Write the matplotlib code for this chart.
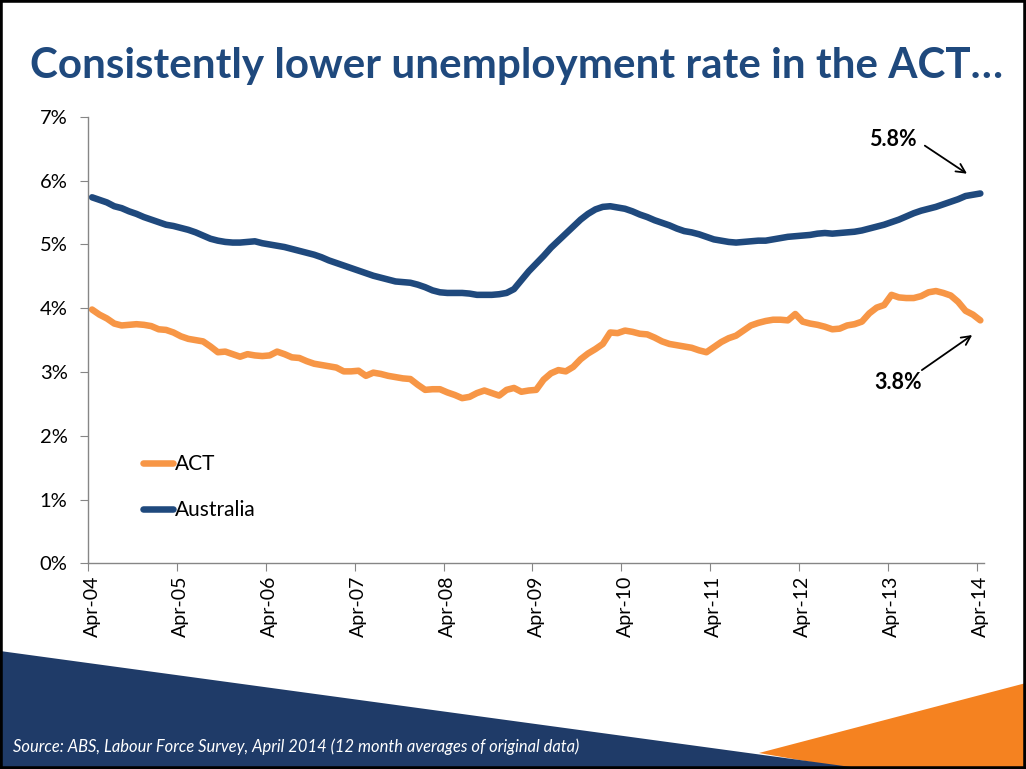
import matplotlib
matplotlib.use("Agg")
import matplotlib.pyplot as plt
from matplotlib.patches import Polygon, Rectangle
from matplotlib.ticker import FixedLocator, FixedFormatter

plt.rcParams['font.family'] = ['Lato', 'DejaVu Sans']

# 12 month averages of unemployment rate (%), monthly Apr-04 .. Apr-14
act = [3.98, 3.90, 3.84, 3.76, 3.73, 3.74, 3.75, 3.74, 3.72, 3.67, 3.66, 3.62,
       3.56, 3.52, 3.50, 3.48, 3.40, 3.31, 3.32, 3.28, 3.24, 3.28, 3.26, 3.25,
       3.26, 3.32, 3.28, 3.23, 3.22, 3.17, 3.13, 3.11, 3.09, 3.07, 3.01, 3.01,
       3.02, 2.94, 2.99, 2.97, 2.94, 2.92, 2.90, 2.89, 2.80, 2.72, 2.73, 2.73,
       2.68, 2.64, 2.59, 2.61, 2.67, 2.71, 2.67, 2.63, 2.72, 2.75, 2.69, 2.71,
       2.72, 2.88, 2.98, 3.03, 3.01, 3.08, 3.20, 3.29, 3.36, 3.44, 3.62, 3.61,
       3.65, 3.63, 3.60, 3.59, 3.54, 3.48, 3.44, 3.42, 3.40, 3.38, 3.34, 3.31,
       3.39, 3.47, 3.53, 3.57, 3.65, 3.73, 3.77, 3.80, 3.82, 3.82, 3.81, 3.91,
       3.79, 3.76, 3.74, 3.71, 3.67, 3.68, 3.73, 3.75, 3.79, 3.92, 4.01, 4.05,
       4.21, 4.17, 4.16, 4.16, 4.19, 4.25, 4.27, 4.24, 4.20, 4.10, 3.96, 3.90,
       3.81]
australia = [5.74, 5.70, 5.66, 5.60, 5.57, 5.52, 5.48, 5.43, 5.39, 5.35, 5.31, 5.29,
             5.26, 5.23, 5.19, 5.14, 5.09, 5.06, 5.04, 5.03, 5.03, 5.04, 5.05, 5.02,
             5.00, 4.98, 4.96, 4.93, 4.90, 4.87, 4.84, 4.80, 4.75, 4.71, 4.67, 4.63,
             4.59, 4.55, 4.51, 4.48, 4.45, 4.42, 4.41, 4.40, 4.37, 4.33, 4.28, 4.25,
             4.24, 4.24, 4.24, 4.23, 4.21, 4.21, 4.21, 4.22, 4.24, 4.30, 4.44, 4.58,
             4.70, 4.82, 4.95, 5.06, 5.17, 5.28, 5.39, 5.48, 5.55, 5.59, 5.60, 5.58,
             5.56, 5.52, 5.47, 5.43, 5.38, 5.34, 5.30, 5.25, 5.21, 5.19, 5.16, 5.12,
             5.08, 5.06, 5.04, 5.03, 5.04, 5.05, 5.06, 5.06, 5.08, 5.10, 5.12, 5.13,
             5.14, 5.15, 5.17, 5.18, 5.17, 5.18, 5.19, 5.20, 5.22, 5.25, 5.28, 5.31,
             5.35, 5.39, 5.44, 5.49, 5.53, 5.56, 5.59, 5.63, 5.67, 5.71, 5.76, 5.78,
             5.80]
year_labels = ['Apr-04', 'Apr-05', 'Apr-06', 'Apr-07', 'Apr-08', 'Apr-09',
               'Apr-10', 'Apr-11', 'Apr-12', 'Apr-13', 'Apr-14']
y_labels = ['0%', '1%', '2%', '3%', '4%', '5%', '6%', '7%']

ACT_COL = '#F79646'
AUS_COL = '#1F497D'
GRID_COL = '#868686'

months = list(range(len(act)))

fig = plt.figure(figsize=(10.26, 7.69), dpi=100)

# slide decoration along the bottom
fig.patches.append(Polygon([(759 / 1026, 1 - 753 / 769), (1.0, 1 - 683 / 769),
                            (1.0, 0.0), (851 / 1026, 0.0)],
                           closed=True, transform=fig.transFigure,
                           facecolor='#F58220', edgecolor='none', zorder=0))
fig.patches.append(Polygon([(0.0, 1 - 651 / 769), (851 / 1026, 1 - 767 / 769),
                            (851 / 1026, 0.0), (0.0, 0.0)],
                           closed=True, transform=fig.transFigure,
                           facecolor='#1F3B68', edgecolor='none', zorder=1))
fig.patches.append(Rectangle((0, 0), 1, 1, transform=fig.transFigure,
                             fill=False, edgecolor='black', lw=4, zorder=5))

fig.text(0.503, 1 - 78 / 769, 'Consistently lower unemployment rate in the ACT\u2026',
         ha='center', va='baseline', fontsize=30.3, fontweight='bold',
         color='#1F497D')
fig.text(13 / 1026, 1 - 752 / 769,
         'Source: ABS, Labour Force Survey, April 2014 (12 month averages of original data)',
         ha='left', va='baseline', fontsize=11.9, style='italic', color='white')

ax = fig.add_axes([0.0861, 0.2675, 0.8730, 0.5804])
ax.plot(months, act, color=ACT_COL, lw=4.7, solid_capstyle='round',
        solid_joinstyle='round', label='ACT')
ax.plot(months, australia, color=AUS_COL, lw=4.7, solid_capstyle='round',
        solid_joinstyle='round', label='Australia')

ax.set_xlim(-0.5, len(act) - 0.5)
ax.set_ylim(0, 7)
ax.set_yticks(range(8))
ax.set_yticklabels(y_labels)

# category axis: tick marks between months, labels on each April
ax.xaxis.set_major_locator(FixedLocator([m - 0.5 for m in months[::12]]))
ax.xaxis.set_major_formatter(FixedFormatter([''] * len(year_labels)))
ax.xaxis.set_minor_locator(FixedLocator(months[::12]))
ax.xaxis.set_minor_formatter(FixedFormatter(year_labels))
ax.tick_params(axis='x', which='minor', length=0, pad=9, labelsize=14,
               labelrotation=90)
ax.tick_params(axis='x', which='major', length=6, color=GRID_COL)
ax.tick_params(axis='y', length=6, color=GRID_COL, labelsize=14.5, pad=9)

for side in ['top', 'right']:
    ax.spines[side].set_visible(False)
for side in ['left', 'bottom']:
    ax.spines[side].set_color(GRID_COL)
    ax.spines[side].set_linewidth(1)

ax.legend(loc='center left', bbox_to_anchor=(0.061, 0.171), frameon=False,
          fontsize=15, handlelength=1.45, handletextpad=0.1, labelspacing=1.25,
          borderpad=0, borderaxespad=0)

# end-of-series callouts
last = len(act) - 1
ax.annotate('', xy=(last - 1.8, australia[-1] + 0.31),
            xytext=(last - 7.5, australia[-1] + 0.75),
            arrowprops=dict(arrowstyle='->', color='black', lw=1.3,
                            mutation_scale=16, shrinkA=0, shrinkB=0))
ax.text(last - 11.8, australia[-1] + 0.84, f'{australia[-1]:.1f}%',
        ha='center', va='center', fontsize=15.5, fontweight='bold')
ax.annotate('', xy=(last - 1.1, act[-1] - 0.23),
            xytext=(last - 7.9, act[-1] - 0.78),
            arrowprops=dict(arrowstyle='->', color='black', lw=1.3,
                            mutation_scale=16, shrinkA=0, shrinkB=0))
ax.text(last - 11.1, act[-1] - 0.98, f'{act[-1]:.1f}%',
        ha='center', va='center', fontsize=15.5, fontweight='bold')

fig.savefig('out.png', dpi=100)
